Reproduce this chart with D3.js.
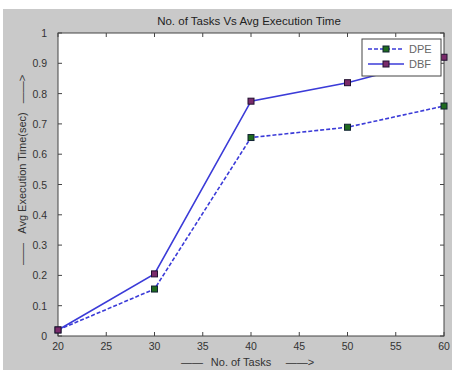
<!DOCTYPE html>
<html>
<head>
<meta charset="utf-8">
<script src="https://cdn.jsdelivr.net/npm/d3@7"></script>
<style>
  body { margin: 0; background: #fff; }
  svg { display: block; font-family: "Liberation Sans", Arial, sans-serif; }
</style>
</head>
<body>
<div id="chart"></div>
<script>
// data
const tasks = [20, 30, 40, 50, 60];
const dpe = [0.02, 0.155, 0.655, 0.689, 0.759];
const dbf = [0.02, 0.205, 0.775, 0.836, 0.92];
const xTicks = [20, 25, 30, 35, 40, 45, 50, 55, 60];
const yTicks = [0, 0.1, 0.2, 0.3, 0.4, 0.5, 0.6, 0.7, 0.8, 0.9, 1];

const W = 452, H = 370;
const m = { left: 58, right: 8, top: 33, bottom: 34 };

const svg = d3.select('#chart')
  .append('svg')
  .attr('width', W)
  .attr('height', H);

// grey figure background
svg.append('rect')
  .attr('x', 3).attr('y', 9)
  .attr('width', W - 3).attr('height', H - 9)
  .attr('fill', '#c9c9c9');

const x = d3.scaleLinear().domain([20, 60]).range([m.left, W - m.right]);
const y = d3.scaleLinear().domain([0, 1]).range([H - m.bottom, m.top]);

svg.append('rect')
  .attr('x', x(20)).attr('y', y(1))
  .attr('width', x(60) - x(20)).attr('height', y(0) - y(1))
  .attr('fill', '#fff')
  .attr('stroke', '#444')
  .attr('stroke-width', 1);

// ticks pointing inwards, on all four sides
const tickLen = 4;
const g = svg.append('g').attr('stroke', '#444').attr('stroke-width', 1);
xTicks.forEach(function (t) {
  g.append('line').attr('x1', x(t)).attr('x2', x(t)).attr('y1', y(0)).attr('y2', y(0) - tickLen);
  g.append('line').attr('x1', x(t)).attr('x2', x(t)).attr('y1', y(1)).attr('y2', y(1) + tickLen);
});
yTicks.forEach(function (t) {
  g.append('line').attr('x1', x(20)).attr('x2', x(20) + tickLen).attr('y1', y(t)).attr('y2', y(t));
  g.append('line').attr('x1', x(60)).attr('x2', x(60) - tickLen).attr('y1', y(t)).attr('y2', y(t));
});

svg.selectAll('.xlab')
  .data(xTicks)
  .enter()
  .append('text')
  .attr('class', 'xlab')
  .attr('x', function (d) { return x(d); })
  .attr('y', y(0) + 14)
  .attr('text-anchor', 'middle')
  .attr('font-size', 10.5)
  .attr('fill', '#333')
  .text(function (d) { return d; });

svg.selectAll('.ylab')
  .data(yTicks)
  .enter()
  .append('text')
  .attr('class', 'ylab')
  .attr('x', x(20) - 11)
  .attr('y', function (d) { return y(d) + 4; })
  .attr('text-anchor', 'end')
  .attr('font-size', 10.5)
  .attr('fill', '#333')
  .text(function (d) { return d; });

svg.append('text')
  .text('No. of Tasks Vs Avg Execution Time')
  .attr('x', 249)
  .attr('y', 25)
  .attr('text-anchor', 'middle')
  .attr('font-size', 11.5)
  .attr('fill', '#222');

// x axis label: dash, text, arrow
const xl = svg.append('g').attr('font-size', 11).attr('fill', '#333');
xl.append('text').attr('x', 192).attr('y', 366).attr('text-anchor', 'middle').text('——');
xl.append('text').attr('x', 241).attr('y', 366).attr('text-anchor', 'middle').text('No. of Tasks');
xl.append('text').attr('x', 300).attr('y', 366).attr('text-anchor', 'middle').text('——>');

// y axis label, rotated
const yl = svg.append('g').attr('font-size', 11).attr('fill', '#333')
  .attr('transform', 'translate(26,0) rotate(-90)');
yl.append('text').attr('x', -254).attr('y', 0).attr('text-anchor', 'middle').text('——');
yl.append('text').attr('x', -173).attr('y', 0).attr('text-anchor', 'middle').text('Avg Execution Time(sec)');
yl.append('text').attr('x', -89).attr('y', 0).attr('text-anchor', 'middle').text('——>');

const line = d3.line()
  .x(function (d) { return x(d[0]); })
  .y(function (d) { return y(d[1]); });

const series = [
  { name: 'DPE', values: dpe, dash: '4,2', fill: '#1f6b1f', edge: '#123' },
  { name: 'DBF', values: dbf, dash: null, fill: '#7a2a6a', edge: '#201030' }
];

series.forEach(function (s) {
  const pts = tasks.map(function (t, i) { return [t, s.values[i]]; });
  svg.append('path')
    .attr('d', line(pts))
    .attr('fill', 'none')
    .attr('stroke', '#3b3bd8')
    .attr('stroke-width', 1.6)
    .attr('stroke-dasharray', s.dash);
  svg.selectAll('.m' + s.name)
    .data(pts)
    .enter()
    .append('rect')
    .attr('x', function (d) { return x(d[0]) - 3; })
    .attr('y', function (d) { return y(d[1]) - 3; })
    .attr('width', 6).attr('height', 6)
    .attr('fill', s.fill)
    .attr('stroke', s.edge)
    .attr('stroke-width', 1);
});

// legend
const lg = svg.append('g').attr('transform', 'translate(362,39)');
lg.append('rect')
  .attr('width', 79).attr('height', 37)
  .attr('fill', '#fff')
  .attr('stroke', '#444');
series.forEach(function (s, i) {
  const yy = 10 + i * 15;
  lg.append('line')
    .attr('x1', 6).attr('x2', 42).attr('y1', yy).attr('y2', yy)
    .attr('stroke', '#3b3bd8').attr('stroke-width', 1.6)
    .attr('stroke-dasharray', s.dash);
  lg.append('rect')
    .attr('x', 24 - 3).attr('y', yy - 3).attr('width', 6).attr('height', 6)
    .attr('fill', s.fill).attr('stroke', s.edge);
  lg.append('text')
    .attr('x', 47).attr('y', yy + 4)
    .attr('font-size', 11)
    .attr('fill', '#666')
    .text(s.name);
});
</script>
</body>
</html>
